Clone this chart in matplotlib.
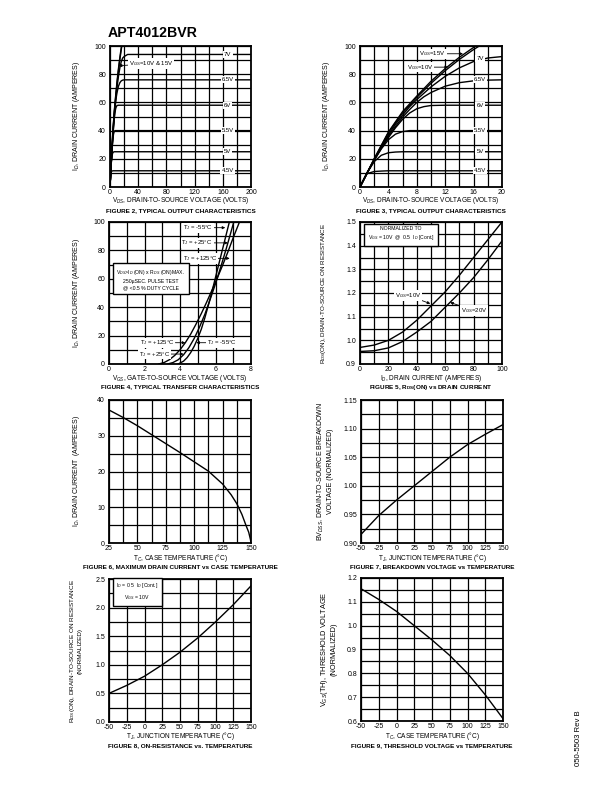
import numpy as np
import matplotlib
matplotlib.use("Agg")
import matplotlib.pyplot as plt
from matplotlib.ticker import MultipleLocator, FormatStrFormatter

plt.rcParams['font.family'] = ['Liberation Sans', 'DejaVu Sans']
plt.rcParams['mathtext.fontset'] = 'custom'
plt.rcParams['mathtext.rm'] = 'Liberation Sans'
plt.rcParams['mathtext.it'] = 'Liberation Sans:italic'
plt.rcParams['mathtext.bf'] = 'Liberation Sans:bold'
plt.rcParams['axes.unicode_minus'] = False

W, H = 612, 792

# ---------------- data ----------------
# Figure 2 / 3 : output characteristics (VDS in volts, ID in amps)
out_vds = [0, 1, 2, 3, 4, 5, 6, 7, 8, 9, 10, 12, 14, 16, 18, 20, 25, 200]
out_45 = [0, 9.5, 11, 11.3, 11.5, 11.5, 11.5, 11.5, 11.5, 11.5, 11.5, 11.5, 11.5, 11.5, 11.5, 11.5, 11.5, 11.5]
out_50 = [0, 10, 18, 22.5, 24.3, 24.8, 25, 25, 25, 25, 25, 25, 25, 25, 25, 25, 25, 25]
out_55 = [0, 10, 19, 27, 33.5, 37.5, 39.3, 40, 40, 40, 40, 40, 40, 40, 40, 40, 40, 40]
out_60 = [0, 10, 19, 27.5, 35, 42, 48, 52.5, 55.5, 57, 57.8, 58, 58, 58, 58, 58, 58, 58]
out_65 = [0, 10, 19, 28, 36, 43, 49.5, 55, 60, 64, 67, 71.5, 74, 75.3, 75.8, 76, 76, 76]
out_70 = [0, 10, 19.5, 28.5, 37, 44.5, 51, 57, 62, 66.5, 71, 78.5, 84.5, 89, 91.5, 92.5, 94, 94]
out_10v_vds = [0, 2, 4, 6, 8, 10, 12, 14, 16, 16.8]
out_10v = [0, 20, 38.5, 52.5, 63.5, 73.5, 82.5, 90.5, 97.5, 100]
out_15v_vds = [0, 2, 4, 6, 8, 10, 12, 14, 16, 16.3]
out_15v = [0, 20, 39, 53.5, 64.5, 75, 84, 92, 99, 100]
out_labels = ['4.5V', '5V', '5.5V', '6V', '6.5V', '7V']
out_levels = [11.5, 25, 40, 58, 76, 94]

# Figure 4 : transfer characteristics (VGS, ID)
tr_m55_vgs = [3.9, 4.2, 4.4, 4.6, 4.8, 5.0, 5.2, 5.4, 5.6, 5.8, 6.0, 6.2, 6.4, 6.6, 6.78]
tr_m55_id = [0, 2, 4.5, 8, 12.5, 18, 24.5, 32.5, 41.5, 51, 61, 71, 81, 91, 100]
tr_p25_vgs = [3.3, 3.6, 3.9, 4.2, 4.5, 4.8, 5.1, 5.4, 5.7, 6.0, 6.3, 6.6, 6.85, 7.03]
tr_p25_id = [0, 1, 3, 6.5, 11.5, 18, 26, 35, 45.5, 56.5, 68.5, 81, 92, 100]
tr_p125_vgs = [2.8, 3.1, 3.4, 3.7, 4.0, 4.3, 4.6, 4.9, 5.2, 5.5, 5.8, 6.1, 6.4, 6.7, 7.0, 7.35]
tr_p125_id = [0, 1, 3, 6, 10, 15, 21, 28, 35.5, 43.5, 52, 60.5, 69.5, 79, 89, 100]

# Figure 5 : RDS(on) vs drain current
rds_id = [0, 10, 20, 30, 40, 50, 60, 70, 80, 90, 100]
rds_10v = [0.97, 0.98, 1.0, 1.035, 1.085, 1.145, 1.205, 1.275, 1.35, 1.425, 1.5]
rds_20v = [0.953, 0.956, 0.968, 0.995, 1.035, 1.08, 1.14, 1.2, 1.265, 1.34, 1.42]

# Figure 6 : max drain current vs case temperature
idmax_tc = [25, 37.5, 50, 62.5, 75, 87.5, 100, 112.5, 125, 132.5, 137.5, 142, 145.5, 148, 149.5, 150]
idmax_id = [37.2, 35.1, 32.8, 30.3, 27.8, 25.3, 22.7, 20.1, 16.5, 13.5, 11, 8, 5, 3, 1, 0]

# Figures 7, 8, 9 : normalized values vs temperature
temp = [-50, -25, 0, 25, 50, 75, 100, 125, 150]
bvdss = [0.915, 0.948, 0.975, 1.0, 1.025, 1.05, 1.072, 1.09, 1.107]
rds_norm = [0.5, 0.64, 0.8, 1.0, 1.22, 1.47, 1.75, 2.05, 2.38]
vth_norm = [1.155, 1.11, 1.06, 1.0, 0.94, 0.875, 0.8, 0.71, 0.61]

# ---------------- helpers ----------------
fig = plt.figure(figsize=(W / 100, H / 100), dpi=100)

TICK_FS = 5.0
LAB_FS = 4.7
CAP_FS = 4.6
ANN_FS = 4.3


def make_axes(l, t, r, b):
    return fig.add_axes([l / W, 1 - b / H, (r - l) / W, (b - t) / H])


def setup(ax, xlim, ylim, xmaj, xmin, ymaj, ymin, yfmt=None):
    ax.set_xlim(*xlim)
    ax.set_ylim(*ylim)
    ax.xaxis.set_major_locator(MultipleLocator(xmaj))
    ax.xaxis.set_minor_locator(MultipleLocator(xmin))
    ax.yaxis.set_major_locator(MultipleLocator(ymaj))
    ax.yaxis.set_minor_locator(MultipleLocator(ymin))
    if yfmt:
        ax.yaxis.set_major_formatter(FormatStrFormatter(yfmt))
    ax.grid(True, which='both', color='black', lw=0.9)
    ax.set_axisbelow(True)
    ax.tick_params(which='both', length=0, labelsize=TICK_FS)
    ax.tick_params(axis='x', pad=1.2)
    ax.tick_params(axis='y', pad=2.8)
    for s in ax.spines.values():
        s.set_linewidth(1.3)


def ptext(x, y, s, **kw):
    fig.text(x / W, 1 - y / H, s, **kw)


def xlabel(ax, y, s):
    bb = ax.get_position()
    ptext((bb.x0 + bb.x1) / 2 * W, y, s, ha='center', va='center', fontsize=LAB_FS)


def caption(ax, y, s):
    bb = ax.get_position()
    ptext((bb.x0 + bb.x1) / 2 * W, y, s, ha='center', va='center', fontsize=CAP_FS, fontweight='bold')


def ylabel(ax, x, s, fs=5.0):
    bb = ax.get_position()
    ptext(x, (1 - (bb.y0 + bb.y1) / 2) * H, s, rotation=90, ha='center', va='center',
          fontsize=fs, multialignment='center', linespacing=1.1)


def line_label(ax, x, y, s):
    ax.text(x, y, s, ha='center', va='center', fontsize=ANN_FS,
            bbox=dict(facecolor='white', edgecolor='none', pad=0.8))


def arrow_note(ax, s, xy, xytext, ha):
    ax.annotate(s, xy=xy, xytext=xytext, ha=ha, va='center', fontsize=ANN_FS,
                bbox=dict(facecolor='white', edgecolor='none', pad=0.5),
                arrowprops=dict(arrowstyle='-|>', color='black', lw=0.6,
                                mutation_scale=4, shrinkA=0, shrinkB=0))


ptext(108, 33, 'APT4012BVR', fontsize=10.2, fontweight='bold', ha='left', va='center')

# ---------------- Figure 2 ----------------
ax2 = make_axes(110, 46, 251, 187)
setup(ax2, (0, 200), (0, 100), 40, 20, 20, 10)
for curve in [out_45, out_50, out_55, out_60, out_65, out_70]:
    ax2.plot(out_vds, curve, color='black', lw=1.0)
ax2.plot(out_10v_vds, out_10v, color='black', lw=1.0)
ax2.plot(out_15v_vds, out_15v, color='black', lw=1.0)
for lab, lev in zip(out_labels, out_levels):
    line_label(ax2, 167, lev, lab)
arrow_note(ax2, r'V$_{GS}$=10V & 15V', (12.5, 86), (27, 87.5), 'left')
xlabel(ax2, 201, r'V$_{DS}$, DRAIN-TO-SOURCE VOLTAGE (VOLTS)')
ylabel(ax2, 76, r'I$_D$, DRAIN CURRENT (AMPERES)')
caption(ax2, 211, 'FIGURE 2, TYPICAL OUTPUT CHARACTERISTICS')

# ---------------- Figure 3 ----------------
ax3 = make_axes(360, 46, 502, 187)
setup(ax3, (0, 20), (0, 100), 4, 2, 20, 10)
for curve in [out_45, out_50, out_55, out_60, out_65, out_70]:
    ax3.plot(out_vds, curve, color='black', lw=1.0)
ax3.plot(out_10v_vds, out_10v, color='black', lw=1.0)
ax3.plot(out_15v_vds, out_15v, color='black', lw=1.0)
for lab, lev in zip(out_labels, [11.5, 25, 40, 58, 76, 91]):
    line_label(ax3, 16.9, lev, lab)
arrow_note(ax3, r'V$_{GS}$=15V', (14.5, 94.5), (12.1, 94.5), 'right')
arrow_note(ax3, r'V$_{GS}$=10V', (12.4, 85), (10.3, 85), 'right')
xlabel(ax3, 201, r'V$_{DS}$, DRAIN-TO-SOURCE VOLTAGE (VOLTS)')
ylabel(ax3, 327, r'I$_D$, DRAIN CURRENT (AMPERES)')
caption(ax3, 211, 'FIGURE 3, TYPICAL OUTPUT CHARACTERISTICS')

# ---------------- Figure 4 ----------------
ax4 = make_axes(109, 222, 251, 364)
setup(ax4, (0, 8), (0, 100), 2, 1, 20, 10)
ax4.plot(tr_m55_vgs, tr_m55_id, color='black', lw=1.0)
ax4.plot(tr_p25_vgs, tr_p25_id, color='black', lw=1.0)
ax4.plot(tr_p125_vgs, tr_p125_id, color='black', lw=1.0)
arrow_note(ax4, r'T$_J$ = -55°C', (6.55, 96), (5.85, 96), 'right')
arrow_note(ax4, r'T$_J$ = +25°C', (6.7, 85.3), (5.85, 85.3), 'right')
arrow_note(ax4, r'T$_J$ = +125°C', (6.8, 74.4), (6.1, 74.4), 'right')
arrow_note(ax4, r'T$_J$ = +125°C', (4.3, 15), (3.7, 15), 'right')
arrow_note(ax4, r'T$_J$ = -55°C', (4.92, 15), (5.5, 15), 'left')
arrow_note(ax4, r'T$_J$ = +25°C', (4.2, 7), (3.45, 7), 'right')
ax4.text(2.37, 59.5, 'V$_{DS}$>I$_D$ (ON) x R$_{DS}$ (ON)MAX.\n250µSEC. PULSE TEST\n@ <0.5 % DUTY CYCLE',
         ha='center', va='center', fontsize=3.7, linespacing=1.4,
         bbox=dict(facecolor='white', edgecolor='black', lw=1.0, pad=2.5))
xlabel(ax4, 378, r'V$_{GS}$, GATE-TO-SOURCE VOLTAGE (VOLTS)')
ylabel(ax4, 76, r'I$_D$, DRAIN CURRENT (AMPERES)')
caption(ax4, 387, 'FIGURE 4, TYPICAL TRANSFER CHARACTERISTICS')

# ---------------- Figure 5 ----------------
ax5 = make_axes(360, 222, 502, 364)
setup(ax5, (0, 100), (0.9, 1.5), 20, 10, 0.1, 0.05, '%.1f')
ax5.plot(rds_id, rds_10v, color='black', lw=1.0)
ax5.plot(rds_id, rds_20v, color='black', lw=1.0)
arrow_note(ax5, r'V$_{GS}$=10V', (49.5, 1.155), (43, 1.19), 'right')
arrow_note(ax5, r'V$_{GS}$=20V', (63.5, 1.16), (71, 1.126), 'left')
ax5.text(29, 1.45, 'NORMALIZED TO\nV$_{GS}$ = 10V  @  0.5  I$_D$ [Cont.]',
         ha='center', va='center', fontsize=3.7, linespacing=1.4,
         bbox=dict(facecolor='white', edgecolor='black', lw=1.0, pad=2.5))
xlabel(ax5, 378, r'I$_D$, DRAIN CURRENT (AMPERES)')
ylabel(ax5, 324, r'R$_{DS}$(ON), DRAIN-TO-SOURCE ON RESISTANCE', fs=4.5)
caption(ax5, 387, r'FIGURE 5, R$\mathbf{_{DS}}$(ON) vs DRAIN CURRENT')

# ---------------- Figure 6 ----------------
ax6 = make_axes(109, 400, 251, 543)
setup(ax6, (25, 150), (0, 40), 25, 12.5, 10, 5)
ax6.plot(idmax_tc, idmax_id, color='black', lw=1.0)
xlabel(ax6, 558, r'T$_C$, CASE TEMPERATURE (°C)')
ylabel(ax6, 76, r'I$_D$, DRAIN CURRENT  (AMPERES)')
caption(ax6, 567, 'FIGURE 6, MAXIMUM DRAIN CURRENT vs CASE TEMPERATURE')

# ---------------- Figure 7 ----------------
ax7 = make_axes(361, 400, 503, 543)
setup(ax7, (-50, 150), (0.9, 1.15), 25, 25, 0.05, 0.025, '%.2f')
ax7.plot(temp, bvdss, color='black', lw=1.0)
xlabel(ax7, 558, r'T$_J$, JUNCTION TEMPERATURE (°C)')
ylabel(ax7, 325, 'BV$_{DSS}$, DRAIN-TO-SOURCE BREAKDOWN\nVOLTAGE (NORMALIZED)')
caption(ax7, 567, 'FIGURE 7, BREAKDOWN VOLTAGE vs TEMPERATURE')

# ---------------- Figure 8 ----------------
ax8 = make_axes(109, 579, 251, 722)
setup(ax8, (-50, 150), (0, 2.5), 25, 25, 0.5, 0.25, '%.1f')
ax8.plot(temp, rds_norm, color='black', lw=1.0)
ax8.text(-40, 2.28, 'I$_D$ = 0.5  I$_D$ [Cont.]\nV$_{GS}$ = 10V', ha='left', va='center',
         fontsize=3.7, linespacing=1.5, multialignment='center',
         bbox=dict(facecolor='white', edgecolor='black', lw=1.0, pad=2.5))
xlabel(ax8, 736.5, r'T$_J$, JUNCTION TEMPERATURE (°C)')
ylabel(ax8, 75, 'R$_{DS}$(ON), DRAIN-TO-SOURCE ON RESISTANCE\n(NORMALIZED)', fs=4.6)
caption(ax8, 745.5, 'FIGURE 8, ON-RESISTANCE vs. TEMPERATURE')

# ---------------- Figure 9 ----------------
ax9 = make_axes(361, 578, 503, 721)
setup(ax9, (-50, 150), (0.6, 1.2), 25, 25, 0.1, 0.05, '%.1f')
ax9.plot(temp, vth_norm, color='black', lw=1.0)
xlabel(ax9, 736.5, r'T$_C$, CASE TEMPERATURE (°C)')
ylabel(ax9, 328, 'V$_{GS}$(TH), THRESHOLD VOLTAGE\n(NORMALIZED)', fs=5.3)
caption(ax9, 745.5, 'FIGURE 9, THRESHOLD VOLTAGE vs TEMPERATURE')

ptext(579, 738, '050-5503 Rev B', rotation=90, ha='center', va='center', fontsize=5.6)

fig.savefig('out.png', dpi=100)
